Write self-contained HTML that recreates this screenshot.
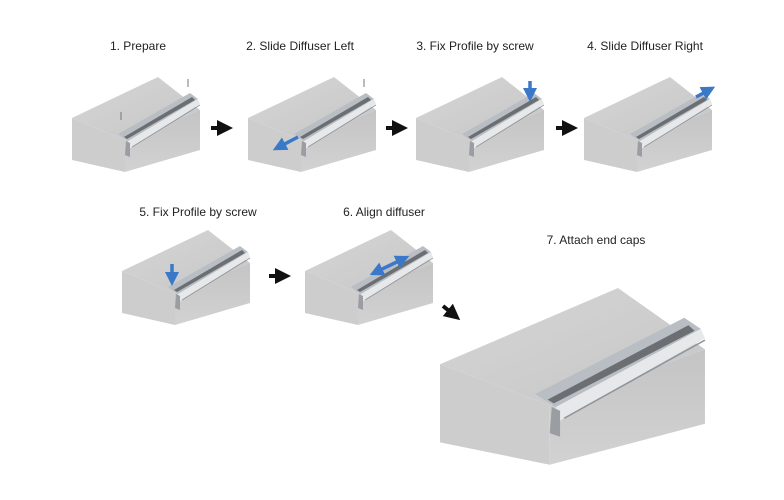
<!DOCTYPE html>
<html><head><style>
body{margin:0;background:#fff}
svg{display:block}
text{font-family:"Liberation Sans",sans-serif;font-size:12px;fill:#222;text-anchor:middle}
</style></head><body>
<svg width="784" height="500" viewBox="0 0 784 500" xmlns="http://www.w3.org/2000/svg">
<defs>
<linearGradient id="top" x1="0" y1="0" x2="1" y2="1"><stop offset="0" stop-color="#d6d6d6"/><stop offset="1" stop-color="#c6c6c6"/></linearGradient>
<linearGradient id="rf" x1="0" y1="0" x2="0" y2="1"><stop offset="0" stop-color="#c4c4c4"/><stop offset="1" stop-color="#d2d2d2"/></linearGradient>
<g id="blk">
<polygon points="0,41 86,0 128,33 53,63" fill="url(#top)"/>
<polygon points="0,41 53,63 53,95 0,83" fill="#cdcdcd"/>
<polygon points="53,63 128,33 128,73 53,95" fill="url(#rf)"/>
<!-- profile -->
<polygon points="46,57 118,16 126,22 56,64" fill="#b9bec4"/>
<polygon points="52,60 120,20 123,23 55,62" fill="#6b6f74"/>
<polygon points="56,64 126,22 128,27 60,70 54,74" fill="#e6e8ea"/>
<polygon points="54,64 58,66 58,80 53,78" fill="#9a9ea3"/>
<line x1="60" y1="70" x2="128" y2="28" stroke="#8f949a" stroke-width="0.8"/>
</g>
<marker id="ah" markerWidth="4" markerHeight="4" refX="2" refY="2" orient="auto"><path d="M0,0L4,2L0,4z" fill="#111"/></marker>
<marker id="bh" markerWidth="4" markerHeight="4" refX="2" refY="2" orient="auto"><path d="M0,0L4,2L0,4z" fill="#3a78c8"/></marker>
<marker id="bs" markerWidth="4" markerHeight="4" refX="2" refY="2" orient="auto-start-reverse"><path d="M0,0L4,2L0,4z" fill="#3a78c8"/></marker>
</defs>

<text x="138" y="50">1. Prepare</text>
<text x="300" y="50">2. Slide Diffuser Left</text>
<text x="475" y="50">3. Fix Profile by screw</text>
<text x="645" y="50">4. Slide Diffuser Right</text>
<text x="198" y="216">5. Fix Profile by screw</text>
<text x="384" y="216">6. Align diffuser</text>
<text x="596" y="244">7. Attach end caps</text>

<use href="#blk" transform="translate(72,77)"/>
<use href="#blk" transform="translate(248,77)"/>
<use href="#blk" transform="translate(416,77)"/>
<use href="#blk" transform="translate(584,77)"/>
<use href="#blk" transform="translate(122,230)"/>
<use href="#blk" transform="translate(305,230)"/>
<use href="#blk" transform="translate(440,288) scale(2.07,1.86)"/>

<!-- screws -->
<line x1="121" y1="112" x2="121" y2="120" stroke="#777" stroke-width="1"/>
<line x1="188" y1="79" x2="188" y2="87" stroke="#777" stroke-width="1"/>
<line x1="364" y1="79" x2="364" y2="87" stroke="#777" stroke-width="1"/>

<!-- black arrows -->
<g stroke="#111" stroke-width="4" marker-end="url(#ah)">
<line x1="211" y1="128" x2="225" y2="128"/>
<line x1="386" y1="128" x2="400" y2="128"/>
<line x1="556" y1="128" x2="570" y2="128"/>
<line x1="269" y1="276" x2="283" y2="276"/>
<line x1="443" y1="306" x2="454" y2="315"/>
</g>
<!-- blue arrows -->
<g stroke="#3a78c8" stroke-width="3.5">
<line x1="298" y1="137" x2="279" y2="147" marker-end="url(#bh)"/>
<line x1="530" y1="81" x2="530" y2="95" marker-end="url(#bh)"/>
<line x1="696" y1="97" x2="709" y2="90" marker-end="url(#bh)"/>
<line x1="172" y1="264" x2="172" y2="279" marker-end="url(#bh)"/>
<line x1="376" y1="272" x2="403" y2="259" marker-end="url(#bs)" marker-start="url(#bs)"/>
</g>
</svg>
</body></html>
